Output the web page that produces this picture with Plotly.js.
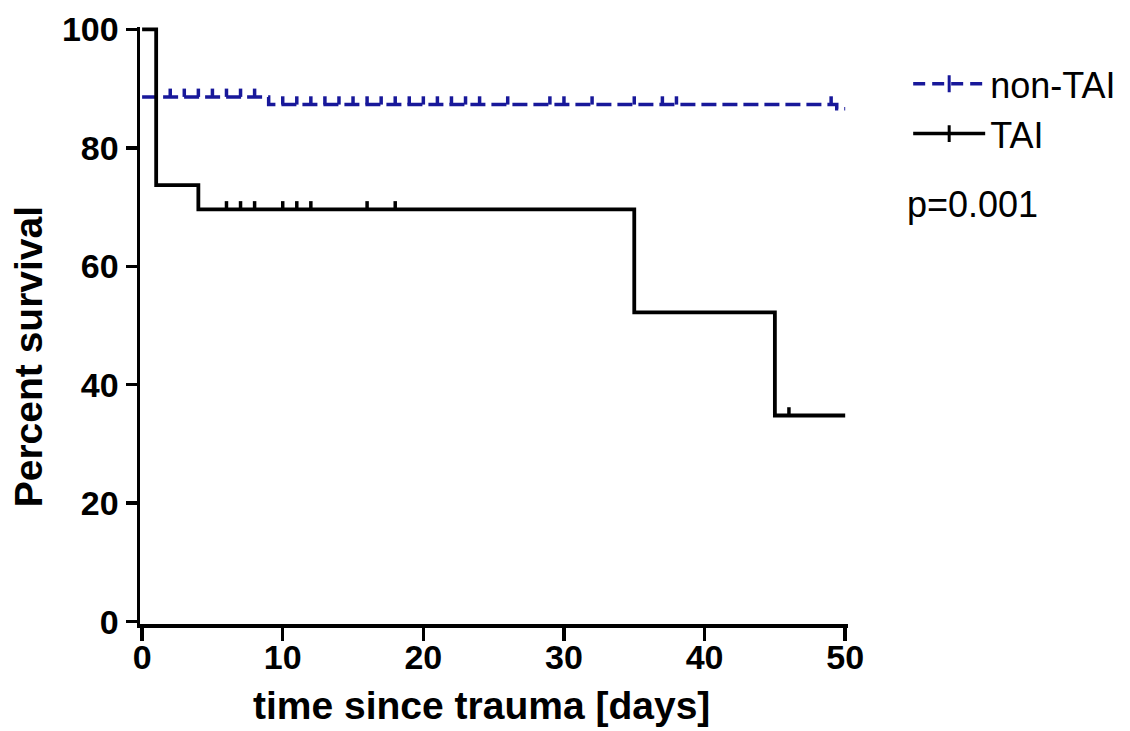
<!DOCTYPE html>
<html>
<head>
<meta charset="utf-8">
<script src="https://cdn.plot.ly/plotly-3.0.1.min.js"></script>
<style>
  html, body { margin: 0; padding: 0; background: #ffffff; }
  #chart { width: 1130px; height: 731px; }
</style>
</head>
<body>
<div id="chart"></div>
<script>
// ---- Data ----
// Kaplan-Meier steps: time (days) and percent survival after each step
const nonTaiTimes = [0, 9, 49.4, 50];
const nonTaiSurv  = [88.6, 87.3, 86.6, 86.6];
const nonTaiCensored = [2, 3, 4, 5, 6, 7, 8, 10, 11, 12, 13, 14, 15, 16, 17, 18, 19, 20,
                        21, 22, 23, 24, 26, 29, 30, 32, 35, 37, 38, 49];

const taiTimes = [0, 1, 4, 35, 45, 50];
const taiSurv  = [100, 73.7, 69.6, 52.2, 34.8, 34.8];
const taiCensored = [6, 7, 8, 10, 11, 12, 16, 18, 46];

const seriesNames = ["non-TAI", "TAI"];
const pValueText = "p=0.001";
const xTitle = "time since trauma [days]";
const yTitle = "Percent survival";
const xTickVals = [0, 10, 20, 30, 40, 50];
const yTickVals = [0, 20, 40, 60, 80, 100];

// ---- helpers ----
const BLUE = "#18189a";
const TICK_H = 1.4; // censor tick height in percent units

function levelAt(times, surv, t) {
  let v = surv[0];
  for (let i = 0; i < times.length; i++) {
    if (times[i] <= t) v = surv[i];
  }
  return v;
}
function censorSegments(times, surv, cens) {
  const xs = [], ys = [];
  cens.forEach(t => {
    const lv = levelAt(times, surv, t);
    xs.push(t, t, null);
    ys.push(lv, lv + TICK_H, null);
  });
  return {xs, ys};
}

const nonSeg = censorSegments(nonTaiTimes, nonTaiSurv, nonTaiCensored);
const taiSeg = censorSegments(taiTimes, taiSurv, taiCensored);

const traces = [
  { x: nonTaiTimes, y: nonTaiSurv, mode: "lines", line: {shape: "hv", color: BLUE, width: 3.5, dash: "15px,6px"},
    showlegend: false, hoverinfo: "skip" },
  { x: nonSeg.xs, y: nonSeg.ys, mode: "lines", line: {color: BLUE, width: 3.5},
    showlegend: false, hoverinfo: "skip", connectgaps: false },
  { x: taiTimes, y: taiSurv, mode: "lines", line: {shape: "hv", color: "#000000", width: 3.8},
    showlegend: false, hoverinfo: "skip" },
  { x: taiSeg.xs, y: taiSeg.ys, mode: "lines", line: {color: "#000000", width: 3.5},
    showlegend: false, hoverinfo: "skip", connectgaps: false },
  // legend entries
  { x: [null], y: [null], name: seriesNames[0], mode: "lines+markers", legendgroup: "a",
    line: {color: BLUE, width: 3.5, dash: "12px,7px"},
    marker: {symbol: "line-ns", size: 12, line: {color: BLUE, width: 3}} },
  { x: [null], y: [null], name: seriesNames[1], mode: "lines+markers", legendgroup: "b",
    line: {color: "#000000", width: 3.5},
    marker: {symbol: "line-ns", size: 12, line: {color: "#000000", width: 3}} }
];

const FONT = "Liberation Sans, Arial, sans-serif";

const layout = {
  width: 1130, height: 731,
  paper_bgcolor: "#ffffff", plot_bgcolor: "#ffffff",
  margin: {l: 140, r: 282, t: 27, b: 107, autoexpand: false},
  showlegend: true,
  legend: {
    x: 1.085, y: 0.955, xanchor: "left", yanchor: "top",
    font: {family: FONT, size: 36, color: "#000000"},
    traceorder: "grouped", tracegroupgap: 0, bgcolor: "rgba(0,0,0,0)",
    itemwidth: 72
  },
  xaxis: {
    range: [-0.15, 50.2], tickvals: xTickVals, ticktext: xTickVals.map(String),
    showgrid: false, zeroline: false, showline: true, linecolor: "#000000", linewidth: 3.5,
    ticks: "outside", ticklen: 13, tickwidth: 3.5, tickcolor: "#000000",
    ticklabelstandoff: -12,
    tickfont: {family: FONT, size: 34, color: "#000000", weight: "bold"}
  },
  yaxis: {
    range: [-0.4, 100.4], tickvals: yTickVals, ticktext: yTickVals.map(String),
    showgrid: false, zeroline: false, showline: true, linecolor: "#000000", linewidth: 3.5,
    ticks: "outside", ticklen: 11, tickwidth: 3.5, tickcolor: "#000000",
    tickfont: {family: FONT, size: 34, color: "#000000", weight: "bold"}
  },
  annotations: [
    { xref: "paper", yref: "paper", x: 1.08, y: 0.703, xanchor: "left", yanchor: "middle",
      text: pValueText, showarrow: false,
      font: {family: FONT, size: 36, color: "#000000"} },
    { xref: "paper", yref: "paper", x: 0.482, y: -0.137, xanchor: "center", yanchor: "middle",
      text: "<b>" + xTitle + "</b>", showarrow: false,
      font: {family: FONT, size: 39, color: "#000000"} },
    { xref: "paper", yref: "paper", x: -0.158, y: 0.447, xanchor: "center", yanchor: "middle",
      text: "<b>" + yTitle + "</b>", showarrow: false, textangle: -90,
      font: {family: FONT, size: 39, color: "#000000"} }
  ]
};

Plotly.newPlot("chart", traces, layout, {displayModeBar: false, staticPlot: true});
</script>
</body>
</html>
